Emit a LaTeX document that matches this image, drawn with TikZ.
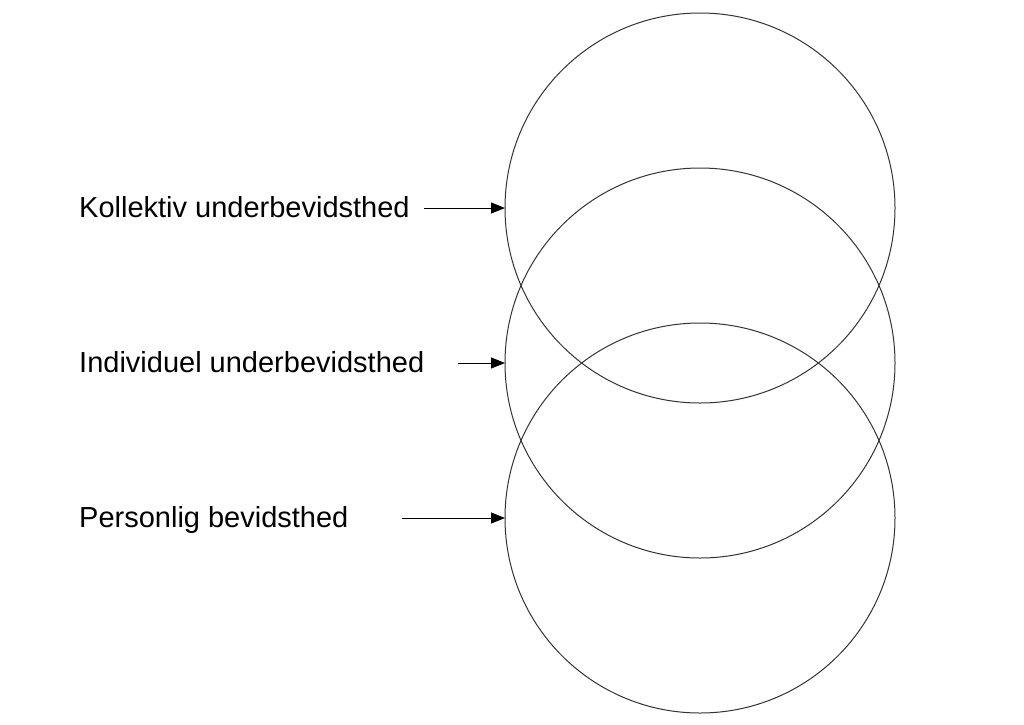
\documentclass[tikz,border=0pt]{standalone}
\usepackage{fontspec}
\setmainfont{Liberation Sans}
\usetikzlibrary{arrows.meta}
\begin{document}
\begin{tikzpicture}[x=1pt,y=-1pt,
  ring/.style={draw=black!80,line width=1pt},
  lbl/.style={anchor=base west,inner sep=0pt,font=\fontsize{29}{34}\selectfont},
  pointer/.style={line width=1pt,-{Triangle[length=14pt,width=11pt]}}]
\useasboundingbox (0,0) rectangle (1024,724);
\draw[ring] (700,208) circle[radius=195];
\draw[ring] (700,363) circle[radius=195];
\draw[ring] (700,518) circle[radius=195];
\coordinate (c1) at (505,208);
\coordinate (c2) at (505,363);
\coordinate (c3) at (505,518);
\node[lbl] (t1) at (79,217) {Kollektiv underbevidsthed};
\node[lbl] (t2) at (79,372) {Individuel underbevidsthed};
\node[lbl] (t3) at (79,527) {Personlig bevidsthed};
\coordinate (s1) at (424,208);
\coordinate (s2) at (458,363);
\coordinate (s3) at (402,518);
\draw[pointer] (s1) -- (c1);
\draw[pointer] (s2) -- (c2);
\draw[pointer] (s3) -- (c3);
\end{tikzpicture}
\end{document}
